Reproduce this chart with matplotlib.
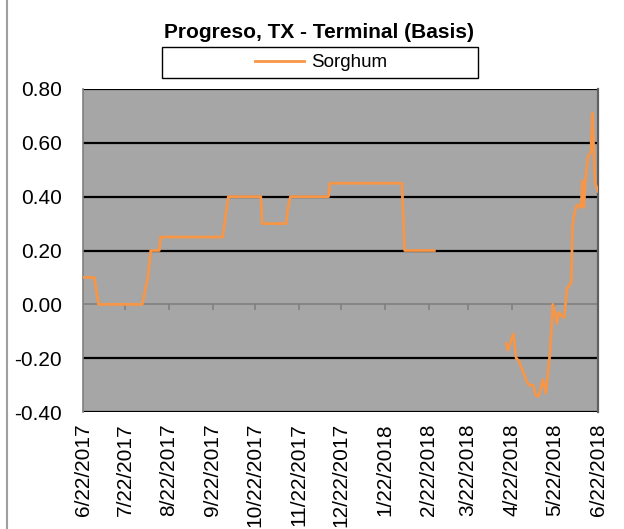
import matplotlib
matplotlib.use("Agg")
from matplotlib import pyplot as plt
from matplotlib.lines import Line2D
from matplotlib.patches import Rectangle
import numpy as np
import pandas as pd

plt.rcParams['font.family'] = ['Liberation Sans', 'DejaVu Sans']

title = "Progreso, TX - Terminal (Basis)"
series_name = "Sorghum"

# values (nan = no data)
dates = ["2017-06-22", "2017-06-30", "2017-07-03", "2017-08-03", "2017-08-07",
         "2017-08-09", "2017-08-15", "2017-08-16", "2017-09-29", "2017-10-03",
         "2017-10-26", "2017-10-27", "2017-11-13", "2017-11-14", "2017-11-16",
         "2017-12-13", "2017-12-14", "2018-02-03", "2018-02-05", "2018-02-26",
         "2018-03-01",
         "2018-04-18", "2018-04-19", "2018-04-23", "2018-04-25", "2018-04-27",
         "2018-05-02", "2018-05-04", "2018-05-07", "2018-05-09", "2018-05-11",
         "2018-05-14", "2018-05-16", "2018-05-19", "2018-05-21", "2018-05-24",
         "2018-05-25", "2018-05-29", "2018-05-31", "2018-06-03", "2018-06-04",
         "2018-06-05", "2018-06-07", "2018-06-10", "2018-06-11", "2018-06-12",
         "2018-06-13", "2018-06-15", "2018-06-17", "2018-06-18", "2018-06-19",
         "2018-06-20", "2018-06-22"]
sorghum = [0.10, 0.10, 0.00, 0.00, 0.10,
           0.20, 0.20, 0.25, 0.25, 0.40,
           0.40, 0.30, 0.30, 0.35, 0.40,
           0.40, 0.45, 0.45, 0.20, 0.20,
           np.nan,
           -0.145, -0.17, -0.11, -0.20, -0.21,
           -0.28, -0.30, -0.30, -0.34, -0.34,
           -0.28, -0.33, -0.18, 0.00, -0.07,
           -0.03, -0.05, 0.06, 0.08, 0.29,
           0.33, 0.37, 0.36, 0.46, 0.36,
           0.46, 0.55, 0.565, 0.71, 0.57,
           0.45, 0.42]

tick_dates = ["6/22/2017", "7/22/2017", "8/22/2017", "9/22/2017", "10/22/2017",
              "11/22/2017", "12/22/2017", "1/22/2018", "2/22/2018", "3/22/2018",
              "4/22/2018", "5/22/2018", "6/22/2018"]
y_ticks = [-0.4, -0.2, 0.0, 0.2, 0.4, 0.6, 0.8]

x = pd.to_datetime(dates)
xt = pd.to_datetime(tick_dates, format="%m/%d/%Y")

fig = plt.figure(figsize=(6.24, 5.29), dpi=100)
ax = fig.add_axes([83/624, 1-412/529, 515/624, 323/529])
ax.set_facecolor("#a6a6a6")

for yv in y_ticks:
    if yv != 0:
        ax.axhline(yv, color="black", lw=1.6, zorder=1)
ax.axhline(0, color="#808080", lw=1.2, zorder=1)
ax.vlines(xt, -0.02, 0, color="#808080", lw=1.2, zorder=1)

ax.plot(x, sorghum, color="#f79646", lw=2.0, zorder=3, label=series_name)

ax.set_xlim(xt[0], xt[-1])
ax.set_ylim(-0.4, 0.8)
ax.set_yticks(y_ticks)
ax.set_yticklabels([f"{v:.2f}" for v in y_ticks])
ax.set_xticks(xt)
ax.set_xticklabels(tick_dates, rotation=90, va="top", ha="center")
ax.tick_params(axis="y", length=0, pad=15, labelsize=15)
ax.tick_params(axis="x", length=0, pad=8, labelsize=15)

for s in ["top", "bottom"]:
    ax.spines[s].set_visible(False)
ax.spines["left"].set_color("#808080")
ax.spines["left"].set_linewidth(1.2)
ax.spines["right"].set_color("#606060")
ax.spines["right"].set_linewidth(1.6)

fig.text(319/624, 1-33/529, title, ha="center", va="center",
         fontsize=15, fontweight="bold")

# legend box
fig.patches.append(Rectangle((162/624, 1-78/529), 316/624, 31/529,
                             transform=fig.transFigure, fill=False,
                             edgecolor="black", lw=1.0))
fig.legend(loc="center", bbox_to_anchor=(321/624, 1-62.5/529), frameon=False,
           fontsize=13.5, handlelength=2.6, handletextpad=0.4)

# left border of the chart
fig.add_artist(Line2D([7/624, 7/624], [0, 1], transform=fig.transFigure,
                      color="#a0a0a0", lw=1.5))

fig.savefig("out.png", dpi=100)
